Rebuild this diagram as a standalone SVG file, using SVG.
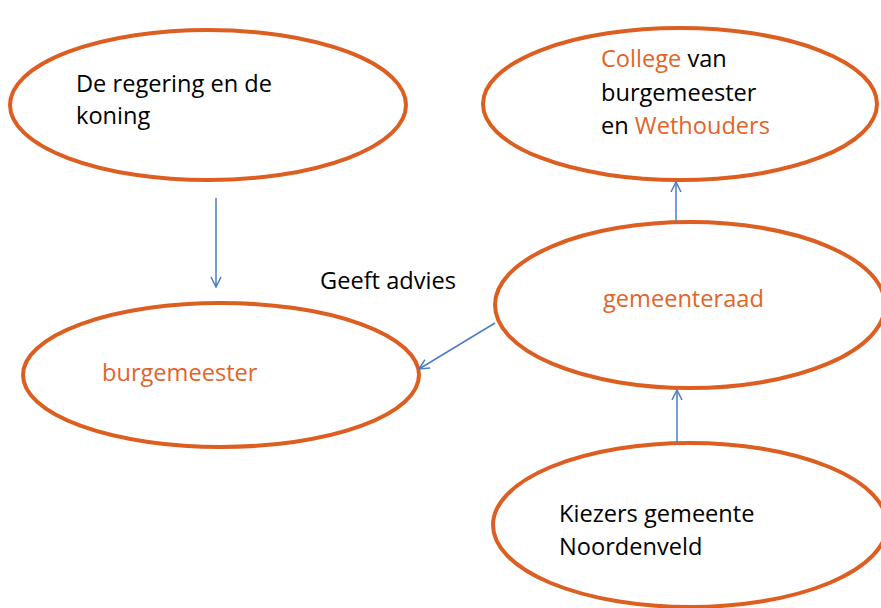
<svg xmlns="http://www.w3.org/2000/svg" width="881" height="608" viewBox="0 0 881 608">
<style>
.node ellipse{fill:#fff;stroke:#DD5E21;stroke-width:4}
text{font-family:"Open Sans","Noto Sans","Liberation Sans",sans-serif;font-size:23.6px;fill:#000}
.o{fill:#E2642A}
.conn line{stroke:#4A7EBF;stroke-width:1.5;fill:none}
</style>
<defs>
<marker id="ah" viewBox="0 0 12 12" refX="11" refY="6" markerWidth="12" markerHeight="12" markerUnits="userSpaceOnUse" orient="auto">
<path d="M1,1 L11,6 L1,11" fill="none" stroke="#4A7EBF" stroke-width="1.5"/>
</marker>
</defs>
<g id="regering" class="node">
<ellipse cx="208" cy="105" rx="198" ry="75"/>
<text x="76" y="92">De regering en de</text>
<text x="76" y="124">koning</text>
</g>
<g id="college" class="node">
<ellipse cx="680" cy="104" rx="197" ry="76"/>
<text x="601" y="67"><tspan class="o">College</tspan> van</text>
<text x="601" y="101">burgemeester</text>
<text x="601" y="134">en <tspan class="o">Wethouders</tspan></text>
</g>
<g id="gemeenteraad" class="node">
<ellipse cx="690" cy="305" rx="195" ry="83"/>
<text class="o" x="603" y="307">gemeenteraad</text>
</g>
<g id="burgemeester" class="node">
<ellipse cx="221" cy="375" rx="198" ry="72"/>
<text class="o" x="102" y="381">burgemeester</text>
</g>
<g id="kiezers" class="node">
<ellipse cx="690" cy="525" rx="197" ry="82"/>
<text x="559" y="522">Kiezers gemeente</text>
<text x="559" y="555">Noordenveld</text>
</g>
<g id="connectors" class="conn">
<line x1="216" y1="198" x2="216" y2="287" marker-end="url(#ah)"/>
<line x1="676" y1="221" x2="676" y2="182" marker-end="url(#ah)"/>
<line x1="677" y1="443" x2="677" y2="390" marker-end="url(#ah)"/>
<line x1="495" y1="323" x2="419" y2="369" marker-end="url(#ah)"/>
</g>
<text id="label-advies" x="320" y="289">Geeft advies</text>
</svg>
